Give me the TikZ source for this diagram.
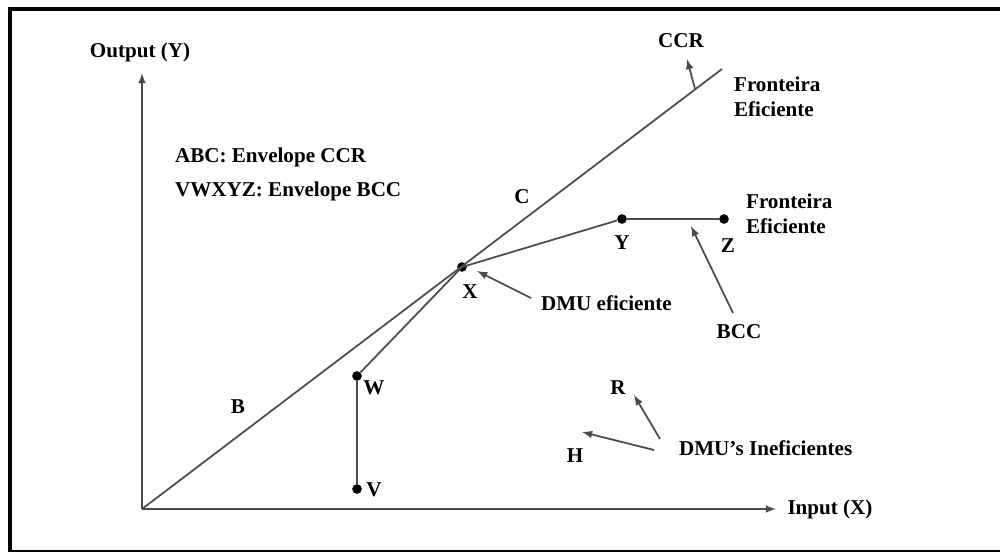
\documentclass[tikz,border=0pt]{standalone}
\usepackage{fontspec}
\setmainfont{Liberation Serif}
\usetikzlibrary{positioning}
\tikzset{
	dmu/.style={circle, fill=black, inner sep=0pt, minimum size=5.5pt},
	lbl/.style={inner sep=1pt, font=\fontsize{12}{14}\selectfont\bfseries},
	% axis and envelope lines
	env/.style={draw=black!70, line width=1pt},
}

\begin{document}
\begin{tikzpicture}[x=0.2mm, y=-0.2mm]
			\useasboundingbox (0,0) rectangle (1000,554);
			% frame
			\draw[line width=0.8mm] (1000,9) -- (10,9) -- (10,552);
			\draw[line width=0.4mm] (10,551) -- (1000,551);
			
			\coordinate (o) at (142,509);
			\coordinate (ytop) at (142,73);
			\coordinate (xend) at (776,509);
			\coordinate (ccr) at (722,69);
			
			\node (x) [dmu] at (462,267) {};
			\node (w) [dmu] at (357,376) {};
			\node (v) [dmu] at (357,489) {};
			\node (y) [dmu] at (622,219) {};
			\node (z) [dmu] at (724,219) {};
			
			\node (xl) [lbl] at (470,292) {X};
			\node (wl) [lbl] at (374,388) {W};
			\node (vl) [lbl] at (374,490) {V};
			\node (yl) [lbl] at (622,243) {Y};
			\node (zl) [lbl] at (728,246) {Z};
			\node (bl) [lbl] at (238,407) {B};
			\node (cl) [lbl] at (522,197) {C};
			
			\node (out) [lbl] at (140,52) {Output (Y)};
			\node (in) [lbl] at (830,509) {Input (X)};
			\node (abc) [lbl, anchor=west] at (173,157) {ABC: Envelope CCR};
			\node (vwx) [lbl, anchor=west] at (173,191) {VWXYZ: Envelope BCC};
			
			\node (ccrl) [lbl] at (681,41) {CCR};
			\node (fr1) [lbl, anchor=west, align=left] at (732,97) {Fronteira\\Eficiente};
			\node (fr2) [lbl, anchor=west, align=left] at (744,214) {Fronteira\\Eficiente};
			\node (bccl) [lbl] at (739,332) {BCC};
			\node (dmue) [lbl, anchor=west] at (539,303) {DMU eficiente};
			\node (rl) [lbl] at (618,388) {R};
			\node (hl) [lbl] at (575,456) {H};
			\node (dmui) [lbl, anchor=west] at (677,448) {DMU's Ineficientes};
			
			\coordinate (ccrfoot) at (695,89);
			\coordinate (ccrtip) at (687,59);
			\coordinate (bccfrom) at (733,313);
			\coordinate (bcctip) at (691,226);
			\coordinate (dmuefrom) at (531,298);
			\coordinate (dmuetip) at (477,271);
			\coordinate (rfrom) at (660,439);
			\coordinate (rtip) at (634,395);
			\coordinate (hfrom) at (654,450);
			\coordinate (htip) at (582,432);
			
			\begin{scope}[env]
				\draw (o) -- (ccr);
				\draw (v) -- (w) -- (x.center) -- (y) -- (z);
			\end{scope}
			\begin{scope}[env, ->, >=latex]
				\draw (o) -- (ytop);
				\draw (o) -- (xend);
				\draw (ccrfoot) -- (ccrtip);
				\draw (bccfrom) -- (bcctip);
				\draw (dmuefrom) -- (dmuetip);
				\draw (rfrom) -- (rtip);
				\draw (hfrom) -- (htip);
			\end{scope}
		\end{tikzpicture}
\end{document}
